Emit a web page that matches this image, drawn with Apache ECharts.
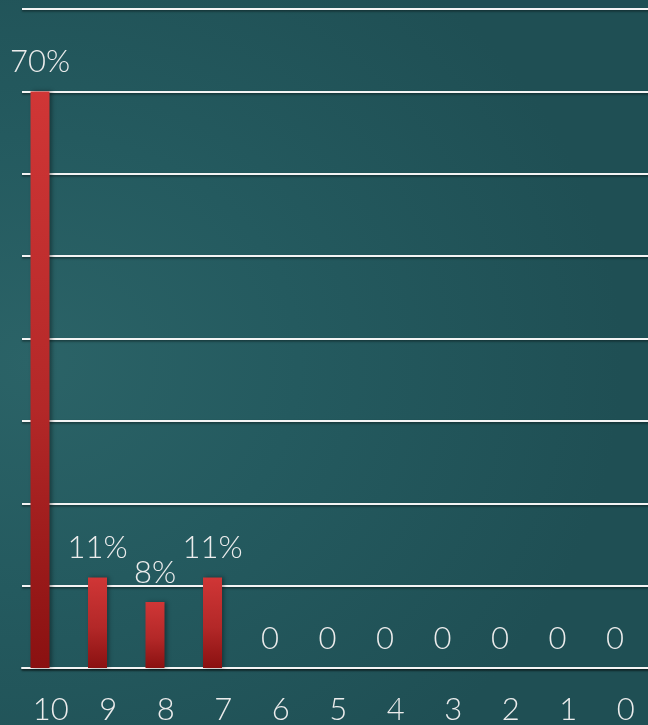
<!DOCTYPE html>
<html>
<head>
<meta charset="utf-8">
<style>
  html, body { margin: 0; padding: 0; overflow: hidden; width: 648px; height: 725px; }
  #chart {
    width: 655px; height: 725px;
    background: radial-gradient(ellipse 90% 70% at 5% 50%, #2b6367 0%, #245a5f 45%, #1f4f54 100%);
  }
</style>
<script src="https://cdn.jsdelivr.net/npm/echarts@6/dist/echarts.min.js"></script>
</head>
<body>
<div id="chart"></div>
<script>
// Score categories along the bottom, highest first
const scores = ['10', '9', '8', '7', '6', '5', '4', '3', '2', '1', '0'];
// Share of responses for each score (%)
const shares = [70, 11, 8, 11, 0, 0, 0, 0, 0, 0, 0];
// Value axis range
const axisMax = 80;
const axisStep = 10;

const textColor = '#ececec';
const fontFamily = 'Lato, "Open Sans", sans-serif';

const chart = echarts.init(document.getElementById('chart'), null, { renderer: 'canvas' });

const lineStyle = {
  color: '#f4f4f4',
  width: 2,
  shadowColor: 'rgba(0,0,0,0.45)',
  shadowBlur: 2,
  shadowOffsetY: 1.5
};

chart.setOption({
  backgroundColor: 'transparent',
  animation: false,
  // plot area runs slightly past the right edge of the view
  grid: { left: 22, top: 9, right: 0.5, bottom: 56, containLabel: false },
  xAxis: {
    type: 'category',
    data: scores,
    axisLine: { show: true, lineStyle: lineStyle },
    axisTick: { show: false },
    axisLabel: {
      color: textColor, fontSize: 31, fontFamily: fontFamily, fontWeight: 300,
      margin: 26
    },
    splitLine: { show: false }
  },
  yAxis: {
    type: 'value',
    min: 0, max: axisMax, interval: axisStep,
    axisLine: { show: false },
    axisTick: { show: false },
    axisLabel: { show: false },
    splitLine: { show: true, lineStyle: lineStyle }
  },
  series: [
    {
      type: 'bar',
      data: shares,
      barWidth: 19,
      barGap: '13%',
      itemStyle: {
        color: new echarts.graphic.LinearGradient(0, 0, 0, 1, [
          { offset: 0, color: '#d03636' },
          { offset: 0.55, color: '#b32828' },
          { offset: 1, color: '#8a1111' }
        ]),
        shadowColor: 'rgba(0,0,0,0.35)',
        shadowBlur: 4,
        shadowOffsetX: 2
      },
      label: {
        show: true,
        position: 'top',
        distance: 14,
        color: textColor,
        fontSize: 31,
        fontFamily: fontFamily,
        fontWeight: 300,
        formatter: p => (p.value > 0 ? p.value + '%' : '0')
      }
    },
    {
      // empty companion series keeps the bars in the left slot of each band
      type: 'bar',
      data: scores.map(() => null),
      barWidth: 19,
      silent: true
    }
  ]
});
</script>
</body>
</html>
